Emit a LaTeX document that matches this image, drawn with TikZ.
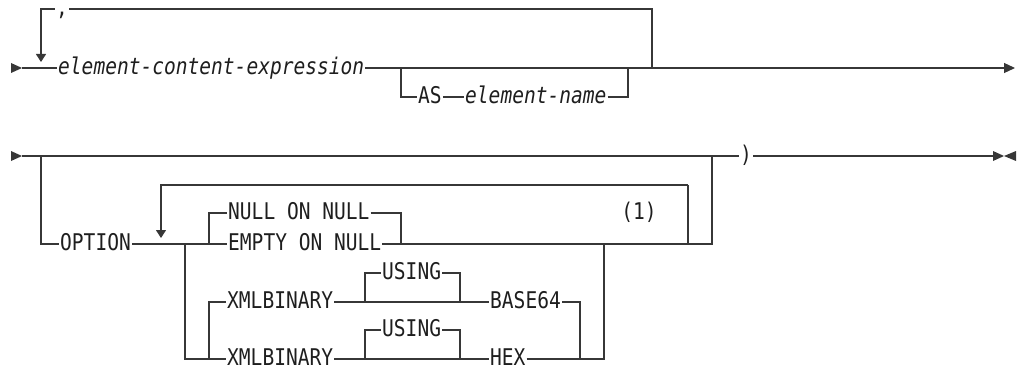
\documentclass[tikz,border=0pt]{standalone}
\usepackage{fontspec}
\newfontfamily\rrfont[FakeStretch=0.85]{DejaVu Sans Mono}
\usetikzlibrary{arrows.meta}

\definecolor{ink}{RGB}{30,30,30}
\definecolor{railgray}{RGB}{55,55,55}
\newcommand{\rrsize}{\rrfont\fontsize{23}{25}\selectfont}

\tikzset{
  kw/.style={font=\rrsize, text=ink, inner xsep=1pt, inner ysep=0pt,
    text height=13.6pt, text depth=0pt, anchor=west},
  var/.style={kw, font=\rrsize\itshape},
  rail/.style={draw=railgray, line width=1.2pt},
  backarrow/.style={rail, -{Triangle[length=8pt,width=10pt]}},
  endarrow/.style={rail, -{Triangle[length=11pt,width=10pt]}}
}

\begin{document}
\begin{tikzpicture}[x=1pt,y=-1pt]
      \useasboundingbox (0,0) rectangle (1018,369);
%      \draw [help lines, opacity=0.5] (0,0) grid [step=50] (1018,369);

      % first row
      \coordinate (r1a) at (22,68);
      \coordinate (lp1) at (41,68);
      \coordinate (b1) at (401,68);
      \coordinate (b2) at (628,68);
      \coordinate (r1b) at (652,68);
      \coordinate (r1e) at (1015,68);
      \node [var] (ece) at (57,68) {element-content-expression};
      \node [kw, anchor=center] (comma) at (62,9) {,};
      \node [kw] (as) at (417,97) {AS};
      \node [var] (ename) at (464,97) {element-name};

      \fill [railgray] (r1a) -- ++(-11,-5) -- ++(0,10) -- cycle;
      \draw [rail] (r1a) -- (ece.west);
      \draw [endarrow] (ece.east) -- (r1e);
      \draw [rail] (r1b) |- (comma.east);
      \draw [backarrow] (comma.west) -| ([yshift=6pt]lp1);
      \draw [rail] (b1) |- (as.west);
      \draw [rail] (as.east) -- (ename.west);
      \draw [rail] (ename.east) -| (b2);

      % second row
      \coordinate (r2a) at (22,156);
      \coordinate (r2b) at (41,156);
      \coordinate (r2c) at (712,156);
      \coordinate (r2d) at (712,244);
      \coordinate (r2e) at (1004,156);
      \node [kw] (rpar) at (739,156) {)};
      \node [kw] (option) at (59,244) {OPTION};

      \fill [railgray] (r2a) -- ++(-11,-5) -- ++(0,10) -- cycle;
      \draw [rail] (r2a) -- (r2c) -- (rpar.west);
      \draw [rail] (rpar.east) -- ([xshift=-11pt]r2e);
      \fill [railgray] (r2e) -- ++(-11,-5) -- ++(0,10) -- cycle;
      \fill [railgray] (r2e) -- ++(12,-5) -- ++(0,10) -- cycle;
      \draw [rail] (r2b) |- (option.west);

      % repeat loop with the choices
      \coordinate (lp2) at (161,244);
      \coordinate (lp2top) at (688,185);
      \coordinate (lpr) at (688,244);
      \coordinate (ch1) at (209,244);
      \coordinate (ch2) at (401,244);
      \coordinate (g1) at (185,244);
      \coordinate (g2) at (604,244);
      \node [kw] (nonn) at (227,213) {NULL ON NULL};
      \node [kw] (eonn) at (227,244) {EMPTY ON NULL};
      \node [kw, anchor=center] (note) at (639,213) {(1)};

      \draw [rail] (option.east) -- (eonn.west);
      \draw [rail] (eonn.east) -- (r2d) -- (r2c);
      \draw [rail] (lpr) |- (lp2top);
      \draw [backarrow] (lp2top) -| ([yshift=6pt]lp2);
      \draw [rail] (ch1) |- (nonn.west);
      \draw [rail] (nonn.east) -| (ch2);

      % XMLBINARY choices
      \coordinate (sx1) at (209,359);
      \coordinate (sx2) at (580,359);
      \coordinate (g2b) at (604,359);
      \coordinate (u1a) at (365,302);
      \coordinate (u1b) at (460,302);
      \coordinate (u2a) at (365,359);
      \coordinate (u2b) at (460,359);
      \node [kw] (xb1) at (226,302) {XMLBINARY};
      \node [kw] (us1) at (381,273) {USING};
      \node [kw] (b64) at (489,302) {BASE64};
      \node [kw] (xb2) at (226,359) {XMLBINARY};
      \node [kw] (us2) at (381,330) {USING};
      \node [kw] (hex) at (489,359) {HEX};

      \draw [rail] (g1) |- (xb2.west);
      \draw [rail] (sx1) |- (xb1.west);
      \draw [rail] (xb1.east) -- (b64.west);
      \draw [rail] (u1a) |- (us1.west);
      \draw [rail] (us1.east) -| (u1b);
      \draw [rail] (b64.east) -| (sx2);
      \draw [rail] (xb2.east) -- (hex.west);
      \draw [rail] (u2a) |- (us2.west);
      \draw [rail] (us2.east) -| (u2b);
      \draw [rail] (hex.east) -- (g2b) -- (g2);
\end{tikzpicture}
\end{document}
